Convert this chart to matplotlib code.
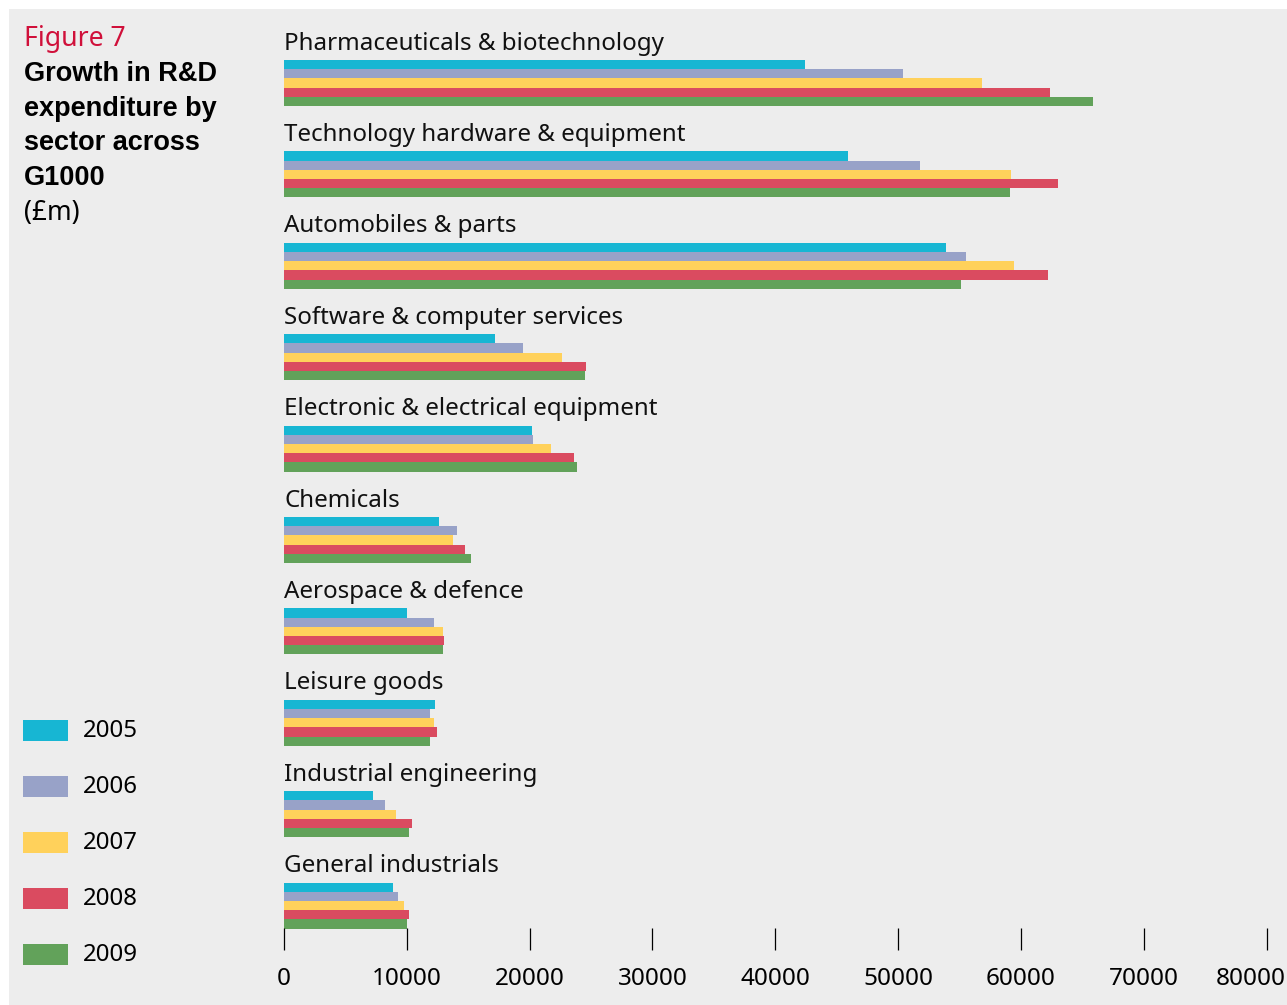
import numpy as np
import matplotlib.pyplot as plt
import matplotlib.transforms as mtransforms
from matplotlib.patches import Rectangle

plt.rcParams['font.family'] = ['Noto Sans', 'DejaVu Sans']

# Datos (GBP m)
sectors = ["Pharmaceuticals & biotechnology", "Technology hardware & equipment",
           "Automobiles & parts", "Software & computer services",
           "Electronic & electrical equipment", "Chemicals", "Aerospace & defence",
           "Leisure goods", "Industrial engineering", "General industrials"]
years = ["2005", "2006", "2007", "2008", "2009"]
v2005 = [42400, 45900, 53900, 17200, 20200, 12600, 10000, 12300, 7250, 8900]
v2006 = [50400, 51800, 55500, 19500, 20300, 14100, 12200, 11900, 8200, 9300]
v2007 = [56800, 59200, 59400, 22600, 21700, 13800, 12950, 12200, 9100, 9800]
v2008 = [62400, 63000, 62200, 24600, 23600, 14700, 13050, 12450, 10400, 10200]
v2009 = [65900, 59100, 55100, 24500, 23850, 15200, 12950, 11900, 10200, 10000]
series = [v2005, v2006, v2007, v2008, v2009]
colors = ["#17b6d3", "#98a2c8", "#ffd15b", "#da4b60", "#62a25a"]
xticks = np.arange(0, 80001, 10000)

W, H = 1287, 1005
bg = "#ededed"

def fx(x):
    return x / W

def fy(y):
    return 1 - y / H

fig = plt.figure(figsize=(W / 100, H / 100), dpi=100)
fig.patch.set_facecolor("white")
fig.patches.append(Rectangle((fx(9), 0), 1 - fx(9), fy(9), transform=fig.transFigure,
                             facecolor=bg, edgecolor="none", zorder=-5))

# ejes
ax = fig.add_axes([fx(284), fy(950), fx(1266.5) - fx(284), fy(9) - fy(950)])
ax.set_zorder(3)
ax.set_facecolor("none")
gap = 91.4
bh = 9.2 / gap
ax.set_xlim(0, 80000)
ax.set_ylim((950 - 83) / gap, -(83 - 9) / gap)

pos = np.arange(len(sectors))
for j, vals in enumerate(series):
    ax.barh(pos + (j - 2) * bh, vals, height=bh, color=colors[j], linewidth=0)

for i, s in enumerate(sectors):
    ax.text(0, i - 0.43, s, ha="left", va="center", fontsize=17.4, color="#111111")

for sp in ax.spines.values():
    sp.set_visible(False)
ax.set_yticks([])
ax.set_xticks(xticks)
ax.set_xticklabels([str(t) for t in xticks], fontsize=17.5)
ax.tick_params(axis="x", direction="in", length=16, width=0.9, pad=12, colors="black")
# la ultima etiqueta un poco a la izquierda, como en el original
last = ax.get_xticklabels()[-1]
last.set_transform(last.get_transform() + mtransforms.ScaledTranslation(-0.16, 0, fig.dpi_scale_trans))

# titulo
fig.text(fx(24), fy(39), "Figure 7", color="#d0103a", fontsize=19.2, va="center", ha="left")
title_lines = ["Growth in R&D", "expenditure by", "sector across", "G1000"]
for k, line in enumerate(title_lines):
    fig.text(fx(24), fy(74 + k * 34.7), line, fontsize=19.5, fontweight="bold",
             family=["Liberation Sans", "DejaVu Sans"], va="center", ha="left")
fig.text(fx(24), fy(213), "(£m)", fontsize=19, va="center", ha="left")

# leyenda
for k, (yr, c) in enumerate(zip(years, colors)):
    yc = 730 + k * 56
    fig.patches.append(Rectangle((fx(23), fy(yc + 10.5)), fx(45), 21 / H,
                                 transform=fig.transFigure, facecolor=c, edgecolor="none"))
    fig.text(fx(83), fy(yc + 1), yr, fontsize=17.3, va="center", ha="left")

plt.savefig("out.png", dpi=100, facecolor=fig.get_facecolor())
